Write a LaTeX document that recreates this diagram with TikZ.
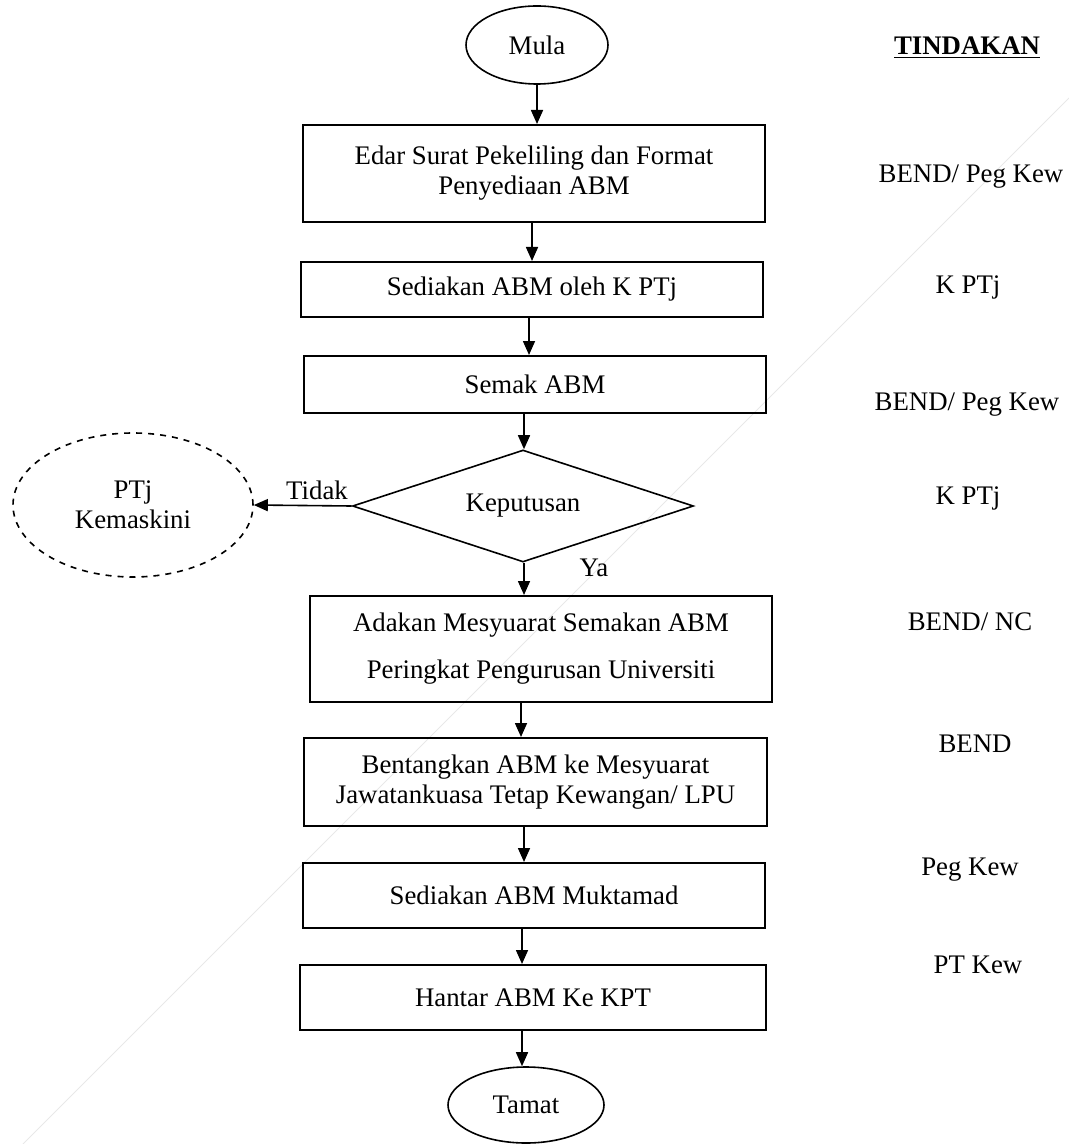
\documentclass[tikz,border=0pt]{standalone}
\usepackage{fontspec}
\setmainfont{Liberation Serif}
\usetikzlibrary{shapes.geometric,arrows.meta}
\begin{document}
\begin{tikzpicture}[x=0.5pt,y=-0.5pt,
  txt/.style={font=\fontsize{13.4}{15}\selectfont},
  box/.style={txt,draw,line width=1pt,rectangle,inner sep=0pt,align=center,minimum width=231pt},
  term/.style={txt,draw,line width=0.8pt,ellipse,inner sep=0pt},
  dec/.style={txt,draw,line width=0.8pt,diamond,shape aspect=3.04,inner sep=0pt,minimum width=170.5pt,minimum height=56pt},
  arr/.style={line width=0.8pt,-{Triangle[length=7pt,width=6pt]}},
  lbl/.style={txt,anchor=center}
]
\useasboundingbox (0,0) rectangle (1069,1144);
% faint watermark line
\draw[black!9,line width=0.5pt] (1069,98) -- (23,1144);

\node[term,minimum width=71pt,minimum height=39pt] (mula) at (537,45) {Mula};
\node[txt,font=\fontsize{13.4}{15}\selectfont\bfseries] (tind) at (967,48) {\underline{TINDAKAN}};

\node[box,minimum height=48.5pt] (b1) at (534,173.5) {Edar Surat Pekeliling dan Format\\Penyediaan ABM};
\node[box,minimum height=27.5pt] (b2) at (532,289.5) {Sediakan ABM oleh K PTj};
\node[box,minimum height=28.5pt] (b3) at (535,384.5) {Semak ABM};
\node[dec] (d) at (523,506) {Keputusan};
\node[term,dashed,minimum width=120pt,minimum height=72pt,align=center] (ptj) at (133,505) {PTj\\Kemaskini};
\node[box,minimum height=53pt] (b4) at (541,649) {Adakan Mesyuarat Semakan ABM\\[8.5pt]Peringkat Pengurusan Universiti};
\node[box,minimum height=44pt,minimum width=231.5pt] (b5) at (535.5,782) {Bentangkan ABM ke Mesyuarat\\Jawatankuasa Tetap Kewangan/ LPU};
\node[box,minimum height=32.5pt] (b6) at (534,895.5) {Sediakan ABM Muktamad};
\node[box,minimum height=32.5pt,minimum width=233pt] (b7) at (533,997.5) {Hantar ABM Ke KPT};
\node[term,minimum width=78pt,minimum height=38pt] (tamat) at (526,1105) {Tamat};

% actors
\node[lbl] (a1) at (971,177) {BEND/ Peg Kew};
\node[lbl] (a2) at (968,287) {K PTj};
\node[lbl] (a3) at (967,405) {BEND/ Peg Kew};
\node[lbl] (a4) at (968,498) {K PTj};
\node[lbl] (a5) at (970,622) {BEND/ NC};
\node[lbl] (a6) at (975,744) {BEND};
\node[lbl] (a7) at (970,870) {Peg Kew};
\node[lbl] (a8) at (978,965) {PT Kew};

% connectors
\draw[arr] (mula.south) -- (b1.north -| mula.south);
\draw[arr] (b1.south -| 532,0) -- (b2.north -| 532,0);
\draw[arr] (b2.south -| 529,0) -- (b3.north -| 529,0);
\draw[arr] (b3.south -| 524,0) -- (d.north -| 524,0);
\draw[arr] (d.west) -- (ptj.east);
\node[lbl] (tidak) at (317,490) {Tidak};
\draw[arr] (d.south -| 524,0) -- (b4.north -| 524,0);
\node[lbl] (ya) at (594,568) {Ya};
\draw[arr] (b4.south -| 521,0) -- (b5.north -| 521,0);
\draw[arr] (b5.south -| 524,0) -- (b6.north -| 524,0);
\draw[arr] (b6.south -| 522,0) -- (b7.north -| 522,0);
\draw[arr] (b7.south -| 522,0) -- (tamat.north -| 522,0);
\end{tikzpicture}
\end{document}
